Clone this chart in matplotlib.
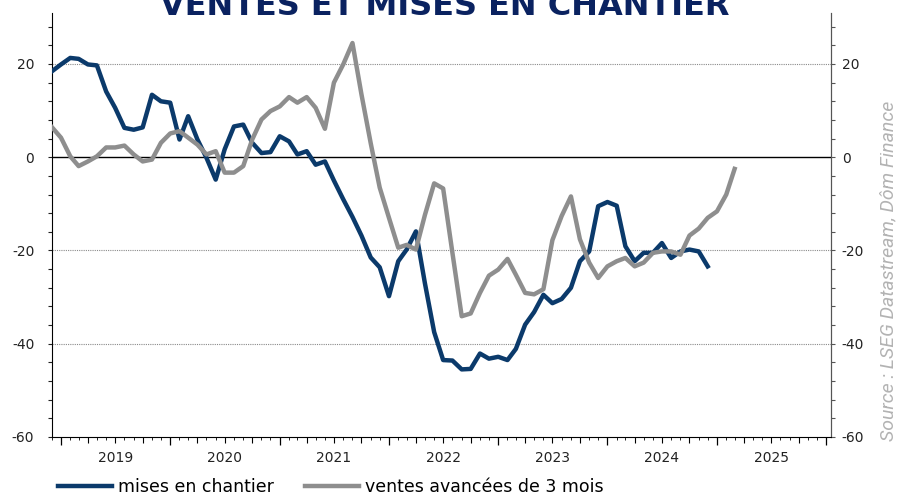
import numpy as np
import pandas as pd
import matplotlib
matplotlib.use('Agg')
import matplotlib.pyplot as plt
import matplotlib.dates as mdates

plt.rcParams['axes.unicode_minus'] = False

# data (% yoy, monthly from Dec 2018)
start_month = '2018-12-01'
mises_en_chantier = [
    18.4, 19.9, 21.3, 21.1, 19.9, 19.7, 14.1, 10.6, 6.3, 5.9, 6.4, 13.4,
    12.0, 11.7, 3.8, 8.8, 3.8, -0.1, -4.8, 1.7, 6.6, 7.0, 3.1, 0.9,
    1.1, 4.5, 3.4, 0.6, 1.3, -1.6, -0.9, -5.0, -9.0, -12.8, -16.8, -21.5,
    -23.6, -29.8, -22.3, -19.8, -15.9, -27.0, -37.5, -43.5, -43.6, -45.5, -45.4, -42.1,
    -43.2, -42.8, -43.5, -41.1, -35.9, -33.2, -29.5, -31.3, -30.4, -28.0, -22.3, -20.2,
    -10.5, -9.6, -10.4, -19.1, -22.3, -20.5, -20.5, -18.4, -21.6, -20.2, -19.8, -20.2,
    -23.4,
]
ventes_avancees = [
    6.5, 4.2, 0.2, -1.9, -0.9, 0.2, 2.1, 2.1, 2.5, 0.6, -0.9, -0.5,
    3.1, 5.1, 5.6, 4.2, 2.7, 0.6, 1.3, -3.3, -3.3, -1.9, 3.8, 8.1,
    9.9, 10.9, 12.9, 11.7, 12.9, 10.6, 6.1, 16.0, 19.9, 24.5, 13.5, 3.0,
    -6.5, -13.0, -19.4, -18.8, -19.8, -12.4, -5.6, -6.7, -20.5, -34.1, -33.5, -29.1,
    -25.4, -24.1, -21.8, -25.2, -29.1, -29.4, -28.3, -17.8, -12.6, -8.4, -17.6, -22.6,
    -25.9, -23.4, -22.3, -21.6, -23.4, -22.6, -20.5, -20.2, -20.2, -20.9, -16.8, -15.3,
    -13.0, -11.6, -8.0, -2.5,
]
y_ticks = [-60, -40, -20, 0, 20]

dates_mc = pd.date_range(start_month, periods=len(mises_en_chantier), freq='MS')
dates_va = pd.date_range(start_month, periods=len(ventes_avancees), freq='MS')

navy = '#0b3a6b'
grey = '#8e8e8e'

fig = plt.figure(figsize=(8.97, 4.96), dpi=100)
ax = fig.add_axes([51.7 / 897, 1 - 437 / 496, (831 - 51.7) / 897, (437 - 12.7) / 496])

ax.plot(dates_mc, mises_en_chantier, color=navy, lw=3.2, label='mises en chantier', zorder=3,
        solid_joinstyle='round')
ax.plot(dates_va, ventes_avancees, color=grey, lw=3.2, label='ventes avancées de 3 mois', zorder=4,
        solid_joinstyle='round')

ax.set_ylim(-60, 31)
ax.set_xlim(pd.Timestamp('2018-12-01'), pd.Timestamp('2026-01-17'))

# horizontal grid
for v in [20, -20, -40]:
    ax.axhline(v, color='#8a8a8a', lw=0.8, ls=(0, (1, 1)), zorder=1)
ax.axhline(0, color='black', lw=1.0, zorder=2)

# spines
ax.spines['top'].set_visible(False)
ax.spines['right'].set_color('#555555')
ax.spines['left'].set_color('black')
ax.spines['bottom'].set_color('black')

# left y axis
ax.set_yticks(y_ticks)
ax.set_yticks(np.arange(-60, 31, 4), minor=True)
ax.tick_params(axis='y', which='both', direction='out', length=3, width=0.8,
               labelsize=10, colors='#222222', pad=9.5)

# right y axis
ax_r = ax.secondary_yaxis('right')
ax_r.set_yticks(y_ticks)
ax_r.set_yticks(np.arange(-60, 31, 4), minor=True)
ax_r.tick_params(axis='y', which='both', direction='out', length=3, width=0.8,
                 labelsize=10, colors='#555555', labelcolor='#222222', pad=4.8)
ax_r.spines['right'].set_color('#555555')

# x ticks: monthly minor, year labels at mid-year
ax.xaxis.set_major_locator(mdates.MonthLocator(bymonth=7, bymonthday=1))
ax.xaxis.set_major_formatter(mdates.DateFormatter('%Y'))
ax.xaxis.set_minor_locator(mdates.MonthLocator())
ax.tick_params(axis='x', which='major', length=0, pad=10, labelsize=10, labelcolor='#222222')
ax.tick_params(axis='x', which='minor', length=2, width=0.6, color='black')

ax_b = ax.secondary_xaxis('bottom')
ax_b.xaxis.set_major_locator(mdates.YearLocator())
ax_b.xaxis.set_minor_locator(mdates.MonthLocator(bymonth=[1, 4, 7, 10]))
ax_b.tick_params(axis='x', which='major', length=6, width=0.9, color='black', labelbottom=False)
ax_b.tick_params(axis='x', which='minor', length=4, width=0.8, color='black')
ax_b.xaxis.set_major_formatter(plt.NullFormatter())
ax_b.spines['bottom'].set_visible(False)

# title (partly cut off at the top, as in the original)
fig.text(445 / 897, 1 - 15 / 496, 'VENTES ET MISES EN CHANTIER', ha='center', va='baseline',
         fontsize=23, fontweight='bold', color='#0a2260')

# source
fig.text(888 / 897, 1 - 441 / 496, 'Source : LSEG Datastream, Dôm Finance', rotation=90,
         ha='center', va='bottom', fontsize=14, style='italic', color='#b3b3b3',
         family=['Roboto', 'DejaVu Sans'])

# legend below
fig.legend(loc='center left', bbox_to_anchor=(58 / 897, 1 - 486.7 / 496), ncol=2,
           frameon=False, fontsize=12.5, handlelength=3.1, handletextpad=0.35,
           columnspacing=1.8, borderpad=0, borderaxespad=0)

fig.savefig('out.png', dpi=100)
